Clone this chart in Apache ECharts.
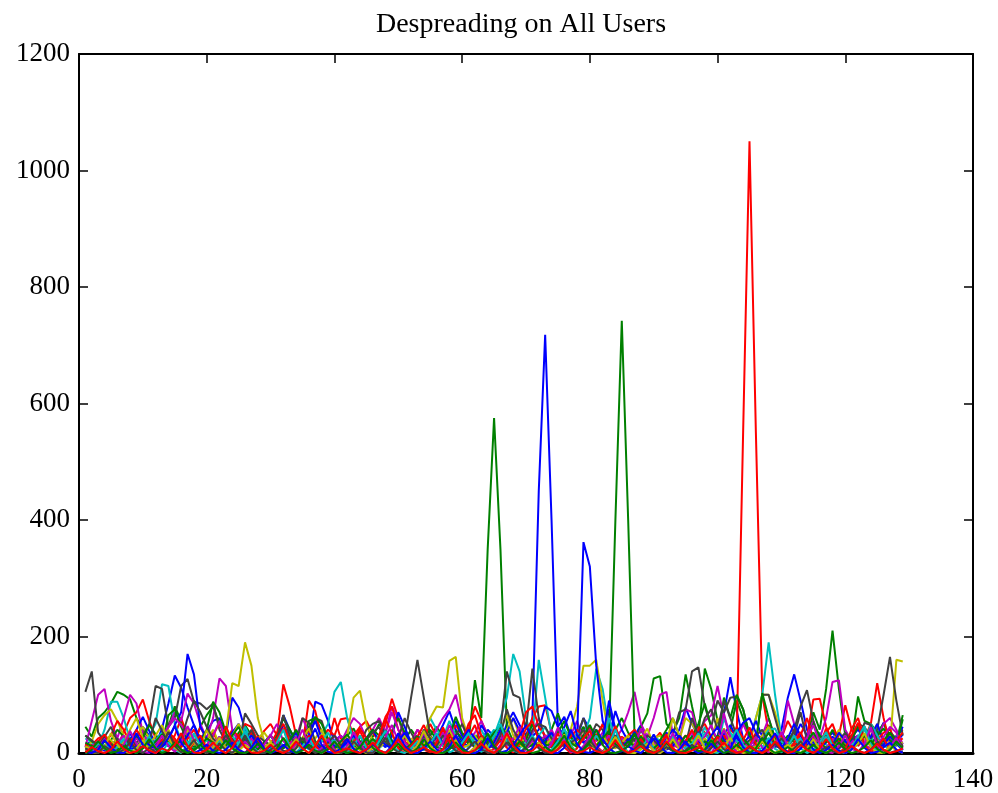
<!DOCTYPE html>
<html><head><meta charset="utf-8">
<style>html,body{margin:0;padding:0;background:#fff}#c{width:998px;height:793px}</style>
<script src="https://cdn.jsdelivr.net/npm/echarts@6/dist/echarts.min.js"></script>
</head><body><div id="c"></div>
<script>
const blueA=[14,20,12,8,16,10,22,32,26,45,30,14,42,85,133,112,78,48,25,38,55,60,30,95,78,40,18,10,6,12,25,48,30,14,8,20,88,83,55,18,10,6,14,28,18,12,24,40,22,12,8,16,30,18,10,25,48,72,40,18,12,30,22,40,28,18,50,70,48,30,60,450,718,400,45,30,18,25,60,40,30,18,75,40,22,18,30,48,25,14,20,35,22,40,78,50,28,18,12,30,68,130,72,25,12,8,30,18,22,40,95,135,90,40,18,10,22,35,20,14,28,40,25,12,30,52,22,18,32];
const greenA=[45,28,60,70,85,105,100,92,60,40,25,15,22,45,80,55,30,18,45,65,80,50,25,12,35,48,30,15,8,12,25,40,28,14,22,55,60,38,18,8,15,30,42,20,12,28,50,35,18,10,22,40,25,12,30,45,28,15,38,25,18,125,60,350,575,350,45,20,12,30,48,25,15,40,68,35,18,28,45,22,12,30,18,40,60,35,20,45,68,128,132,50,35,60,135,80,30,145,110,55,20,40,90,60,25,12,30,48,22,8,20,38,15,25,70,40,110,210,110,30,18,97,55,50,35,50,30,18,65];
const redA=[8,14,25,30,18,12,35,60,70,92,55,25,12,18,30,60,28,15,45,22,35,14,20,40,28,50,45,20,38,50,30,118,80,30,14,90,72,25,40,30,58,60,30,45,55,35,20,50,93,60,30,18,40,22,50,28,12,25,48,30,40,80,55,30,18,45,30,22,35,25,60,80,82,35,18,25,40,22,30,45,25,50,32,15,28,20,12,30,18,22,35,12,25,18,30,22,45,35,20,12,25,40,30,550,1050,550,100,35,18,25,55,35,18,28,92,93,45,20,30,82,40,12,25,50,120,60,15,30,40];
const cyanA=[25,18,12,40,88,88,60,22,12,20,30,50,118,115,50,22,12,30,18,10,14,28,16,8,20,35,18,10,6,12,22,65,30,14,8,20,12,30,50,105,122,60,20,10,25,14,8,18,30,15,10,22,14,30,60,40,25,55,30,14,10,25,40,18,30,60,95,170,140,60,25,160,95,30,15,40,25,12,30,60,145,110,40,18,10,25,14,8,18,30,20,12,25,15,8,30,18,45,22,10,35,25,12,8,20,60,100,190,100,25,12,30,18,8,22,35,14,8,20,30,12,25,40,18,48,20,10,30,15];
const magentaA=[10,55,100,110,55,25,60,100,85,35,15,30,18,45,70,55,102,85,50,25,60,128,115,40,18,30,12,8,15,30,50,20,10,25,60,35,14,22,10,30,18,40,60,50,25,40,60,35,80,60,25,18,40,30,14,40,60,75,100,50,20,35,55,30,14,40,25,12,30,18,35,60,25,40,18,12,30,55,22,40,20,35,60,25,40,70,105,50,28,60,100,105,30,18,75,70,30,55,65,115,60,30,18,50,25,12,30,60,25,15,90,50,18,30,55,25,60,122,125,40,20,30,15,40,25,50,60,40,15];
const yellowA=[8,20,50,65,75,55,30,15,30,45,25,12,18,40,20,10,30,15,8,22,40,15,35,120,115,190,150,60,20,10,12,25,14,8,20,12,25,40,18,10,14,30,95,107,50,20,10,18,30,15,12,25,14,30,60,80,78,158,165,60,25,14,30,18,10,22,40,60,30,15,25,12,30,18,8,20,40,80,150,150,160,90,30,15,25,12,40,18,10,25,30,14,8,22,60,50,30,12,20,60,18,25,40,20,12,60,100,100,70,25,14,30,18,8,22,12,30,20,40,15,10,25,14,30,50,22,12,160,157];
const grayA=[105,140,35,20,12,25,14,8,18,30,50,115,110,45,60,115,127,88,85,75,85,40,18,25,12,68,50,30,20,14,30,60,40,18,10,25,60,55,22,12,8,18,30,14,40,50,55,30,20,12,25,95,160,95,30,14,22,12,30,50,25,14,30,18,10,40,140,100,95,40,145,60,25,18,40,25,12,30,60,25,50,40,20,30,15,25,12,40,18,12,22,14,30,70,75,140,147,80,45,90,70,95,97,75,30,18,100,100,60,20,14,40,80,108,55,20,30,14,22,35,18,50,45,25,40,100,165,90,30];
const blueB=[6,10,18,28,12,6,14,24,40,62,38,15,10,22,48,70,170,135,45,25,12,8,20,35,50,28,12,8,18,30,16,65,40,18,10,32,55,25,12,20,30,14,8,12,25,40,20,10,30,70,45,18,12,30,22,10,20,35,55,30,18,10,48,30,15,22,35,60,38,20,28,40,80,72,45,62,30,25,362,320,150,55,25,72,40,20,12,25,18,8,12,25,40,28,15,22,38,20,10,18,32,48,25,15,30,55,28,12,20,35,18,25,50,30,14,8,18,28,16,10,22,30,15,28,50,20,12,25,45];
const greenB=[30,20,14,10,22,40,28,15,10,25,48,32,14,65,75,45,20,10,18,40,88,70,35,15,10,22,35,18,8,14,30,60,40,22,12,45,62,50,24,10,6,18,28,14,25,40,30,15,38,60,35,18,12,25,40,22,12,28,62,35,15,30,20,12,25,48,30,18,10,22,50,30,20,12,35,55,28,14,30,48,25,15,30,400,742,400,30,18,25,14,22,40,60,30,15,28,50,85,45,20,95,60,100,75,30,15,103,60,25,15,30,18,10,22,50,30,18,40,22,12,25,45,28,15,30,42,22,12,58];
const redB=[15,6,12,20,30,55,40,18,10,25,14,8,22,35,18,10,25,40,20,8,30,52,25,12,8,18,35,22,10,16,35,50,20,10,25,40,18,8,16,60,25,12,20,42,25,10,30,62,80,40,20,10,28,48,22,12,40,20,10,18,50,65,30,12,22,38,15,8,30,70,80,45,30,14,25,12,28,40,20,12,30,48,22,10,18,30,40,20,12,8,15,32,18,25,12,22,40,50,28,15,30,18,45,25,12,35,22,10,15,30,18,12,30,60,25,14,35,50,20,10,42,60,25,12,22,35,40,18,25];
const cyanB=[6,12,20,14,8,15,28,12,6,18,10,22,35,16,8,30,18,6,14,22,12,5,16,30,14,45,22,10,6,15,25,12,8,30,15,6,12,20,35,14,8,16,28,12,6,18,30,14,8,22,12,6,18,35,15,8,30,18,10,22,35,15,8,25,40,18,28,14,8,20,14,30,45,20,10,25,14,35,18,8,30,15,60,22,10,18,8,14,25,12,6,20,30,14,8,22,12,35,14,8,60,35,20,10,15,8,25,40,42,20,10,18,25,12,6,15,28,10,6,20,12,25,14,50,30,12,8,18,10];
const magentaB=[5,12,20,10,6,18,30,12,25,14,6,18,28,45,60,48,32,18,8,14,30,55,22,10,6,14,25,10,5,12,22,8,15,28,12,20,8,14,6,18,30,14,8,15,26,12,18,35,70,40,18,8,14,25,12,22,35,15,8,18,28,12,20,8,16,30,12,25,45,20,10,18,30,14,8,22,12,28,38,20,10,16,30,12,25,14,35,16,8,18,12,30,14,8,22,35,14,28,48,20,68,25,12,20,8,15,28,12,18,8,14,25,12,20,30,12,8,25,14,6,18,30,14,8,16,28,45,35,10];
const yellowB=[12,6,14,30,22,10,18,40,60,25,14,30,48,20,10,25,40,18,8,40,20,8,14,30,50,25,12,25,35,20,8,14,6,12,25,42,18,8,14,6,10,22,12,6,14,25,10,18,8,14,30,12,6,16,28,12,22,40,18,8,14,30,12,6,18,40,65,30,14,8,18,30,12,25,10,18,8,25,38,20,12,30,14,8,18,30,12,25,42,14,8,18,60,30,14,22,10,25,12,20,42,18,8,14,6,12,30,45,20,10,18,8,14,25,12,20,8,14,35,12,8,16,25,12,22,10,30,14,18];
const grayB=[30,22,12,28,45,20,10,25,14,8,18,60,38,15,8,25,60,90,70,45,25,14,30,18,10,22,40,15,8,14,25,65,30,14,60,52,20,10,18,30,12,25,14,8,22,35,45,18,10,25,60,35,15,40,25,12,30,18,8,14,22,10,25,15,8,30,75,40,20,12,40,50,45,25,12,30,18,25,40,14,8,20,12,30,18,10,25,14,30,22,12,8,18,30,14,60,28,60,75,40,90,60,30,14,22,30,40,15,10,25,12,30,70,22,12,20,35,14,8,22,30,14,52,48,20,14,35,25,12];
const blueC=[3,5,8,4,6,15,10,5,12,20,14,6,18,12,8,15,30,48,20,10,6,14,22,12,8,18,30,15,6,10,5,12,22,35,14,8,15,6,22,12,8,18,30,14,6,10,25,14,8,20,35,18,10,6,14,32,18,10,6,22,40,25,12,6,18,40,28,14,30,48,25,12,22,35,15,45,72,30,18,25,40,22,90,40,12,20,36,15,8,25,18,6,12,30,16,8,20,12,30,45,22,12,35,52,60,35,18,22,12,8,25,50,30,14,22,10,6,14,35,20,8,15,30,18,8,14,28,16,5];
const greenC=[18,12,8,20,14,6,10,18,30,15,8,20,32,18,10,22,12,6,14,25,18,8,12,30,45,20,10,6,18,30,14,8,22,40,18,10,14,28,12,8,20,32,15,6,12,24,14,38,20,10,6,15,28,12,20,10,6,18,30,14,25,12,8,20,35,45,20,10,18,8,14,28,15,10,22,35,18,10,30,20,12,25,38,15,8,20,12,28,14,8,18,10,22,12,30,16,8,20,14,30,18,8,14,25,12,6,18,35,15,8,14,25,12,20,35,18,8,14,25,12,8,18,30,14,10,22,35,16,10];
const redC=[2,8,20,32,12,3,0,15,40,22,6,0,10,35,25,5,1,18,30,8,0,14,46,20,4,0,12,28,10,2,24,42,12,1,8,30,14,0,6,20,9,1,16,38,14,2,30,58,35,8,0,12,26,6,1,18,44,20,3,10,28,48,15,0,7,22,9,1,16,42,55,22,4,12,34,10,0,8,26,38,12,2,18,46,16,0,9,24,6,1,14,30,8,0,20,40,15,3,10,28,12,1,6,22,44,15,0,12,32,9,2,18,36,10,0,14,42,18,2,8,30,52,14,1,10,25,6,22,35];
const cyanC=[0,5,16,7,1,10,24,6,0,12,28,9,2,18,6,0,14,34,12,1,8,22,5,0,16,38,14,2,0,7,18,40,10,1,12,26,6,0,10,22,4,0,12,30,9,1,20,38,14,3,0,8,20,5,16,34,12,1,6,18,34,14,2,10,28,50,18,4,0,12,30,10,1,6,20,42,14,0,9,24,8,1,14,40,12,2,0,10,22,6,0,12,28,8,1,16,34,10,2,0,8,22,40,14,3,0,10,26,7,1,12,30,8,0,6,18,36,12,2,0,10,28,46,15,3,0,8,20,6];
const magentaC=[3,0,8,24,10,1,14,38,16,2,0,10,30,12,2,18,46,22,5,0,12,28,8,1,6,20,8,0,14,32,10,2,0,16,40,14,1,8,24,6,0,12,36,16,2,0,10,28,48,20,4,0,14,34,10,1,18,48,24,4,0,10,26,8,1,14,36,12,0,6,22,8,1,16,44,18,2,0,12,30,10,1,8,26,8,0,14,42,20,3,0,10,34,12,1,6,24,9,0,16,40,14,2,0,10,28,9,1,14,36,12,0,8,26,48,16,2,0,12,30,8,1,16,44,14,2,10,26,5];
const yellowC=[6,1,0,10,34,14,2,0,8,22,6,0,12,28,9,1,6,20,6,0,10,26,8,0,4,14,5,0,8,18,6,0,10,24,7,0,12,32,10,1,0,8,20,5,0,10,4,0,6,16,5,0,14,38,12,1,0,8,22,6,0,10,26,8,0,6,30,12,1,0,8,18,5,0,12,32,10,0,6,20,6,0,10,28,8,1,0,6,16,4,0,8,24,7,0,10,30,8,0,4,12,26,7,0,2,8,20,5,0,6,14,4,0,8,24,6,0,10,4,0,6,16,34,10,1,0,12,5,0];
const grayC=[8,2,0,12,4,0,6,18,5,0,9,2,14,36,12,1,8,22,6,0,4,16,5,0,10,30,10,1,0,6,14,4,0,8,26,8,0,4,12,3,0,6,20,8,1,0,10,26,9,1,12,4,0,8,3,0,6,14,4,0,8,20,6,1,0,5,18,6,0,10,26,8,1,0,6,16,4,0,8,22,7,0,3,12,4,0,6,18,6,0,3,10,3,0,5,14,4,0,8,20,6,1,0,4,10,3,0,6,16,5,0,8,20,6,0,3,10,3,0,5,12,3,0,6,18,5,0,4,2];
const blueD=[2,0,6,22,9,1,0,8,34,14,2,0,10,26,46,18,3,0,5,14,4,0,6,18,6,0,9,26,8,0,4,14,4,0,6,20,42,14,2,0,8,24,7,0,5,16,4,0,12,34,12,1,0,7,20,6,0,10,30,9,1,0,6,26,10,1,4,16,5,0,8,30,12,1,0,9,40,16,2,0,6,24,8,0,3,12,4,0,10,32,11,1,0,6,20,6,0,5,16,4,0,8,30,10,1,0,4,18,34,12,1,0,7,22,6,0,5,14,4,0,6,24,9,0,2,10,18,6,0];
const greenD=[0,6,20,8,0,3,12,4,0,8,24,8,0,5,18,6,0,4,14,4,0,7,22,8,1,0,5,16,5,0,8,26,9,0,4,14,4,0,7,20,6,0,3,10,26,9,1,0,4,16,5,0,8,24,8,1,0,6,18,6,0,4,14,34,12,1,0,6,20,7,0,3,10,3,14,30,9,0,5,18,40,14,1,0,4,12,34,12,1,0,6,18,5,0,3,10,3,6,22,8,0,4,14,4,0,8,26,8,0,3,10,3,0,5,14,4,0,6,18,6,0,3,10,22,7,0,5,20,8];
const redD=[1,10,3,0,6,20,7,0,3,12,4,0,8,3,14,34,12,1,0,6,18,6,0,9,28,10,1,0,4,14,4,0,6,20,8,0,12,30,10,0,3,8,3,0,6,18,5,0,9,24,8,0,4,10,3,0,6,32,12,1,0,5,16,5,0,10,34,12,1,0,4,14,4,0,6,20,6,0,3,10,3,0,6,22,7,0,4,12,3,0,6,20,7,1,0,4,10,3,0,7,18,5,0,3,12,4,0,6,20,7,0,3,14,5,0,8,24,8,0,3,12,4,0,5,16,6,0,3,8];

const blue='#0000ff',green='#008000',red='#ff0000',cyan='#00bfbf',magenta='#bf00bf',yellow='#bfbf00',gray='#404040';
const lines=[[blueA,blue],[greenA,green],[redA,red],[cyanA,cyan],[magentaA,magenta],[yellowA,yellow],[grayA,gray],
[blueB,blue],[greenB,green],[redB,red],[cyanB,cyan],[magentaB,magenta],[yellowB,yellow],[grayB,gray],
[blueC,blue],[greenC,green],[redC,red],[cyanC,cyan],[magentaC,magenta],[yellowC,yellow],[grayC,gray],
[blueD,blue],[greenD,green],[redD,red]];
const font='"Liberation Serif","Times New Roman",serif';
const axisLine={show:true,onZero:false,lineStyle:{color:'#000',width:2}};
const tick={show:true,inside:true,length:9,lineStyle:{color:'#000',width:1.5}};
const plain=v=>String(v);
const chart=echarts.init(document.getElementById('c'),null,{renderer:'canvas'});
chart.setOption({
 animation:false,backgroundColor:'#fff',
 title:{text:'Despreading on All Users',left:516,top:6,textAlign:'center',textStyle:{fontFamily:font,fontWeight:'normal',fontSize:28,color:'#000'}},
 grid:{left:79,right:25,top:54,bottom:36},
 xAxis:[
  {type:'value',min:0,max:140,interval:20,axisLine:{show:true,onZero:false,lineStyle:{color:'#000',width:3}},axisTick:tick,splitLine:{show:false},axisLabel:{fontFamily:font,fontSize:27,color:'#000',margin:13,formatter:plain}},
  {type:'value',position:'top',min:0,max:140,interval:20,axisLine,axisTick:tick,splitLine:{show:false},axisLabel:{show:false}}
 ],
 yAxis:[
  {type:'value',min:0,max:1200,interval:200,axisLine,axisTick:tick,splitLine:{show:false},axisLabel:{fontFamily:font,fontSize:27,color:'#000',margin:9,padding:[4,0,0,0],formatter:plain}},
  {type:'value',position:'right',min:0,max:1200,interval:200,axisLine,axisTick:tick,splitLine:{show:false},axisLabel:{show:false}}
 ],
 series:lines.map(([vals,color])=>({type:'line',data:vals.map((v,i)=>[i+1,v]),showSymbol:false,symbol:'none',smooth:false,lineStyle:{color,width:2},z:2,silent:true}))
});
</script></body></html>
